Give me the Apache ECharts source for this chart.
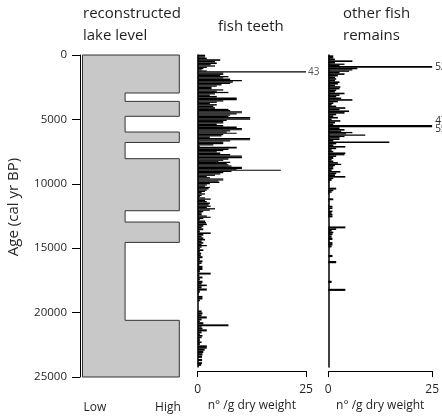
<!DOCTYPE html>
<html><head><meta charset="utf-8">
<script src="https://cdn.jsdelivr.net/npm/echarts@6/dist/echarts.min.js"></script>
<style>html,body{margin:0;padding:0;background:#fff}#c{width:442px;height:417px}</style>
</head><body><div id="c"></div>
<script>
const panelTitles = ['reconstructed\nlake level', 'fish teeth', 'other fish\nremains'];
const ageAxisName = 'Age (cal yr BP)';
const ageTicks = [0, 5000, 10000, 15000, 20000, 25000];
const lakeTopAge = [0, 2950, 3600, 4760, 5980, 6790, 8050, 12090, 12970, 14550, 20600];
const lakeLevel = [1, 0.44, 1, 0.44, 1, 0.44, 1, 0.44, 1, 0.44, 1];
const lakeBottomAge = 25000;
const lakeLevelLabels = ['Low', 'High'];
const countAxisName = 'n° /g dry weight';
const countTicks = [0, 25];

const teethAge = [54,158,261,417,520,675,779,882,986,1090,1193,1271,1348,1452,1555,1633,1737,1840,1944,2047,2177,2280,2384,2487,2591,2694,2798,2901,3005,3109,3212,3341,3471,3574,3678,3781,3885,3988,4118,4247,4376,4454,4558,4635,4713,4816,4920,5023,5127,5230,5334,5437,5541,5670,5800,5903,5981,6059,6188,6266,6369,6473,6576,6706,6783,6887,6990,7094,7197,7301,7404,7559,7663,7740,7870,7999,8103,8206,8335,8439,8517,8594,8698,8801,8905,9008,9086,9164,9215,9319,9422,9526,9630,9733,9836,9940,10018,10095,10199,10302,10406,10509,10613,10716,10820,10923,11027,11130,11234,11363,11441,11544,11648,11752,11881,12010,12114,12217,12321,12424,12528,12657,12787,12916,12994,13097,13201,13304,13434,13563,13693,13822,13951,14133,14288,14391,14547,14650,14805,14909,15064,15168,15271,15375,15504,15633,15763,15893,16022,16203,16358,16539,16669,16798,16979,17135,17316,17523,17652,17833,17963,18170,18351,18429,18610,18791,18946,19127,19386,19516,19645,20551,20680,20861,21017,21198,21327,21483,21664,21793,21897,22052,22233,22362,22492,22621,22751,22880,23009,23139,23346,23450,23600,23786,23980,24174,24433,24692,24821];
const teethVal = [1.7,1.7,2.1,5.2,4.0,4.4,3.0,4.0,2.1,1.3,0.9,2.1,43,5.9,5.9,5.2,7.1,5.9,7.5,10.2,8.1,7.5,5.5,4.4,3.2,3.2,5.9,4.4,7.1,4.0,2.8,4.4,9.0,9.0,5.9,4.4,2.8,4.4,3.6,4.0,7.1,7.5,10.2,10.2,9.0,7.5,7.1,12.1,12.1,6.7,5.9,5.9,4.4,5.9,9.0,10.2,10.2,7.5,6.7,9.0,5.9,5.5,2.8,12.1,12.1,7.5,5.9,5.9,3.6,0.5,9.0,7.1,5.9,4.4,5.2,7.5,10.2,10.2,7.1,5.9,4.8,7.5,6.7,7.1,7.8,10.2,10.2,9.0,19.2,7.8,5.9,5.2,4.0,2.1,2.8,5.9,5.9,4.8,5.0,2.8,2.1,1.7,2.8,2.5,2.1,1.7,0.9,1.7,0.9,0.5,1.7,3.0,1.7,2.1,2.8,2.5,3.0,2.1,4.0,2.8,1.3,0.9,0.9,2.1,3.0,1.3,0.5,1.7,1.9,2.1,1.3,0.9,1.3,0.5,3.0,1.3,0.9,1.3,1.7,0.9,1.3,0.9,2.1,0.9,0.5,1.3,0.5,0.8,0.7,1.1,0.5,1.1,0.9,0.4,1.1,1.1,0.5,3.0,0.4,1.1,0.5,1.1,0.9,2.1,0.9,2.1,0.5,0.2,1.1,1.1,0.5,0.9,1.1,0.9,2.1,0.9,0.5,1.3,7.1,0.9,1.1,2.1,0.9,0.5,1.1,0.9,0.5,0.5,0.9,0.5,2.1,2.1,1.6,1.3,1.1,1.0,1.0,1.0,0.8];

const otherAge = [106,210,365,494,624,753,831,934,1090,1193,1297,1400,1530,1659,1788,1918,2047,2177,2306,2435,2565,2694,2824,2953,3082,3212,3341,3471,3600,3729,3859,3988,4118,4247,4376,4506,4635,4765,4894,5024,5153,5282,5411,5567,5645,5722,5851,6007,6110,6214,6317,6421,6524,6628,6731,6887,6990,7094,7223,7352,7482,7611,7740,7870,7999,8077,8258,8387,8517,8646,8775,8853,8957,9112,9215,9371,9474,9630,9759,9888,9992,10199,10458,10716,10846,10975,11105,11570,11700,12010,12140,12269,12399,12528,12657,12787,12916,13822,13951,14081,14210,14340,14547,14728,14909,15064,15194,15323,16099,16591,18170,18817];
const otherVal = [1.2,1.2,1.6,5.8,1.6,3.9,2.7,52,7.0,5.8,5.0,2.7,3.9,2.3,1.6,1.9,1.6,2.7,2.3,1.6,2.9,2.7,1.9,1.6,3.9,2.7,1.9,3.1,5.8,2.3,1.2,0.8,1.9,4.1,2.7,5.0,3.9,1.9,1.2,2.3,0.8,2.9,1.6,1.2,47,55,2.7,3.9,3.1,5.8,4.3,8.9,3.9,2.7,2.7,1.2,14.7,1.9,1.2,4.1,1.9,0.8,1.2,4.1,3.9,1.9,1.2,0.8,1.2,2.3,3.1,1.6,1.2,1.2,0.8,2.9,1.9,1.6,4.1,1.2,0.8,0.2,0.2,1.9,1.2,0.8,0.2,1.2,0.2,0.2,1.0,1.0,0.2,1.0,0.8,1.0,1.0,4.1,1.9,0.8,1.2,1.0,0.8,1.0,0.2,1.0,1.0,0.8,1.0,1.9,0.8,4.1];

const FONT = 'Open Sans';
const TXT = '#231f20';
const AGE_MAX = 25000, COUNT_MAX = 25;
const PLOT_TOP = 55, PLOT_H = 322;

function countBars(idx, ages, vals, labelColor, labelGap) {
  return {
    type: 'custom', xAxisIndex: idx, yAxisIndex: idx, clip: false, z: 3,
    data: ages.map((a, i) => [vals[i], a]),
    encode: { x: 0, y: 1 },
    renderItem: function (params, api) {
      const i = params.dataIndex;
      const a = ages[i], v = vals[i];
      const p0 = api.coord([0, a]);
      const pv = api.coord([Math.min(v, COUNT_MAX), a]);
      const hPrev = i > 0 ? p0[1] - api.coord([0, ages[i - 1]])[1] : 2;
      const hNext = i < ages.length - 1 ? api.coord([0, ages[i + 1]])[1] - p0[1] : 2;
      const top = p0[1] - Math.min(hPrev / 2, 1.1);
      const bot = p0[1] + Math.min(hNext / 2, 1.1);
      const children = [{
        type: 'rect',
        shape: { x: p0[0], y: top, width: Math.max(pv[0] - p0[0], 0), height: bot - top },
        style: { fill: '#000' }
      }];
      if (v > COUNT_MAX) {
        let dy = 0;
        const close = (j) => j >= 0 && j < ages.length && vals[j] > COUNT_MAX && Math.abs(ages[j] - a) < 300;
        if (close(i + 1)) dy = -4; else if (close(i - 1)) dy = 3;
        children.push({
          type: 'text',
          style: { text: String(v), x: pv[0] + labelGap, y: p0[1] + dy, fill: labelColor, font: '10px "' + FONT + '"', verticalAlign: 'middle', align: 'left' }
        });
      }
      return { type: 'group', children };
    }
  };
}

const chart = echarts.init(document.getElementById('c'), null, { renderer: 'canvas' });

const countXAxis = (idx) => ({
  gridIndex: idx, type: 'value', min: 0, max: COUNT_MAX, interval: 25, position: 'bottom', offset: 4,
  axisLine: { show: true, onZero: false, lineStyle: { color: '#000', width: 1 } },
  axisTick: { show: true, length: 6, lineStyle: { color: '#000', width: 1 } },
  axisLabel: { show: true, margin: 12, fontSize: 12, color: TXT, fontFamily: FONT, formatter: (v) => countTicks.includes(v) ? String(v) : '' },
  splitLine: { show: false },
  name: countAxisName, nameLocation: 'middle', nameGap: 22,
  nameTextStyle: { fontSize: 12, color: TXT, fontFamily: FONT }
});
const countYAxis = (idx) => ({
  gridIndex: idx, type: 'value', min: 0, max: AGE_MAX, inverse: true,
  axisLine: { show: true, onZero: false, lineStyle: { color: '#000', width: 1.5 } },
  axisTick: { show: false }, axisLabel: { show: false }, splitLine: { show: false }
});

const option = {
  animation: false,
  backgroundColor: '#fff',
  title: [
    { text: panelTitles[0], left: 83, top: 3 },
    { text: panelTitles[1], left: 218, top: 16 },
    { text: panelTitles[2], left: 343, top: 3 }
  ].map(t => Object.assign(t, { padding: 0, textStyle: { fontSize: 15, fontWeight: 'normal', color: TXT, fontFamily: FONT, lineHeight: 22 } })),
  grid: [
    { left: 82.5, top: PLOT_TOP, width: 96.8, height: PLOT_H },
    { left: 197.7, top: PLOT_TOP, width: 108.3, height: PLOT_H },
    { left: 328.3, top: PLOT_TOP, width: 107.7, height: PLOT_H }
  ],
  xAxis: [
    { gridIndex: 0, type: 'value', min: 0, max: 1, show: false },
    countXAxis(1),
    countXAxis(2)
  ],
  yAxis: [
    {
      gridIndex: 0, type: 'value', min: 0, max: AGE_MAX, interval: 5000, inverse: true, offset: 2.5,
      axisLine: { show: true, onZero: false, lineStyle: { color: '#000', width: 1 } },
      axisTick: { show: true, length: 8, lineStyle: { color: '#000', width: 1 } },
      axisLabel: { margin: 13, fontSize: 11.5, color: TXT, fontFamily: FONT, formatter: (v) => ageTicks.includes(v) ? String(v) : '' },
      splitLine: { show: false }
    },
    countYAxis(1),
    countYAxis(2)
  ],
  graphic: [
    { type: 'text', x: 14, y: 207, rotation: Math.PI / 2,
      style: { text: ageAxisName, fill: TXT, font: '15px "' + FONT + '"', align: 'center', verticalAlign: 'middle' } },
    { type: 'text', x: 95, y: 408, style: { text: lakeLevelLabels[0], fill: TXT, font: '12px "' + FONT + '"', align: 'center', verticalAlign: 'middle' } },
    { type: 'text', x: 168, y: 408, style: { text: lakeLevelLabels[1], fill: TXT, font: '12px "' + FONT + '"', align: 'center', verticalAlign: 'middle' } }
  ],
  series: [
    {
      type: 'custom', xAxisIndex: 0, yAxisIndex: 0, clip: false,
      data: lakeTopAge.map((a, i) => [lakeLevel[i], a]),
      encode: { x: 0, y: 1 },
      renderItem: function (params, api) {
        if (params.dataIndex !== 0) return null;
        const pts = [api.coord([0, 0])];
        for (let i = 0; i < lakeTopAge.length; i++) {
          const endAge = i < lakeTopAge.length - 1 ? lakeTopAge[i + 1] : lakeBottomAge;
          pts.push(api.coord([lakeLevel[i], lakeTopAge[i]]));
          pts.push(api.coord([lakeLevel[i], endAge]));
        }
        pts.push(api.coord([0, lakeBottomAge]));
        return { type: 'polygon', shape: { points: pts }, style: { fill: '#c8c8c8', stroke: '#333', lineWidth: 1 } };
      }
    },
    countBars(1, teethAge, teethVal, '#555', 2),
    countBars(2, otherAge, otherVal, '#231f20', 3)
  ]
};
chart.setOption(option);
</script>
</body></html>
